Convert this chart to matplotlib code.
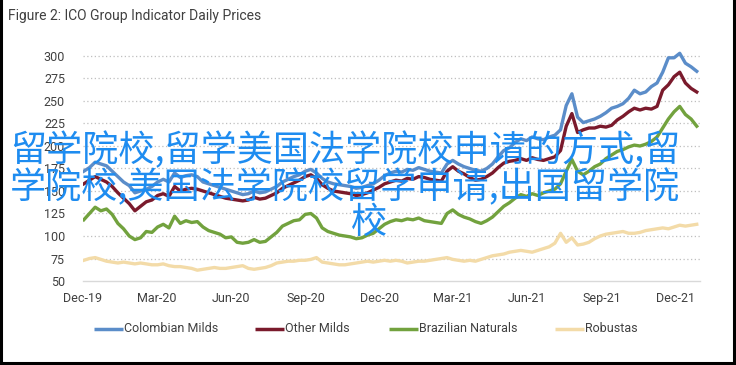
import pandas as pd
import matplotlib
matplotlib.use("Agg")
import matplotlib.pyplot as plt
import matplotlib.dates as mdates
from matplotlib.lines import Line2D

# weekly readings, cents/lb
dates = pd.date_range("2019-12-02", periods=109, freq="7D")

colombian = [172, 176, 182, 180, 178, 172, 166, 160, 156, 148,
             150, 152, 155, 160, 163, 160, 170, 165, 167, 168,
             166, 160, 158, 156, 154, 152, 150, 148, 146, 147,
             150, 148, 149, 152, 155, 160, 163, 166, 168, 172,
             174, 170, 164, 160, 158, 157, 156, 155, 153, 154,
             156, 158, 162, 167, 170, 172, 171, 174, 173, 176,
             174, 172, 171, 170, 180, 184, 180, 177, 175, 173,
             172, 175, 180, 188, 195, 198, 204, 208, 206, 210,
             208, 207, 210, 212, 218, 245, 258, 232, 226, 228,
             230, 233, 237, 242, 244, 247, 253, 262, 258, 260,
             266, 270, 282, 298, 298, 303, 292, 288, 283]

other_milds = [158, 162, 166, 163, 160, 155, 148, 142, 136, 128,
               133, 138, 140, 145, 147, 144, 155, 150, 152, 153,
               152, 150, 148, 146, 144, 142, 141, 140, 139, 140,
               143, 141, 142, 145, 148, 153, 156, 159, 162, 166,
               168, 164, 157, 153, 150, 149, 148, 147, 145, 146,
               148, 151, 154, 158, 160, 162, 161, 164, 163, 166,
               165, 163, 162, 161, 172, 177, 172, 169, 165, 162,
               163, 166, 170, 176, 181, 183, 184, 186, 184, 187,
               185, 184, 186, 188, 195, 222, 236, 215, 218, 220,
               220, 222, 221, 223, 229, 233, 238, 242, 240, 242,
               241, 244, 262, 268, 277, 282, 270, 264, 260]

brazilian = [118, 125, 132, 128, 130, 124, 114, 108, 100, 96,
             98, 105, 104, 110, 113, 109, 122, 114, 117, 115,
             116, 110, 106, 104, 102, 98, 99, 93, 92, 93,
             96, 93, 94, 99, 104, 111, 114, 117, 118, 124,
             125, 120, 109, 105, 103, 101, 100, 99, 97, 98,
             101, 103, 108, 113, 116, 118, 117, 119, 118, 120,
             117, 116, 115, 114, 125, 129, 124, 121, 119, 116,
             114, 117, 121, 127, 133, 137, 142, 146, 144, 147,
             145, 148, 150, 152, 158, 172, 185, 172, 168, 172,
             177, 180, 186, 190, 194, 196, 199, 201, 200, 202,
             205, 210, 220, 230, 238, 244, 235, 230, 222]

robustas = [73, 75, 76, 74, 72, 71, 70, 71, 70, 69,
            70, 69, 68, 68, 69, 67, 66, 66, 65, 64,
            62, 63, 64, 65, 64, 64, 65, 66, 67, 64,
            63, 64, 65, 67, 70, 71, 72, 72, 73, 73,
            74, 76, 71, 70, 69, 68, 68, 69, 70, 71,
            72, 71, 72, 73, 72, 73, 72, 70, 71, 72,
            72, 73, 74, 75, 76, 74, 73, 72, 73, 72,
            74, 76, 78, 79, 80, 82, 83, 84, 83, 82,
            84, 86, 88, 92, 103, 93, 98, 90, 91, 93,
            97, 100, 102, 103, 104, 105, 103, 103, 104, 106,
            107, 108, 109, 108, 110, 112, 111, 112, 113]

series_names = ["Colombian Milds", "Other Milds", "Brazilian Naturals", "Robustas"]
y_ticks = [50, 75, 100, 125, 150, 175, 200, 225, 250, 275, 300]
title = "Figure 2: ICO Group Indicator Daily Prices"
overlay = ["留学院校,留学美国法学院校申请的方式,留",
           "学院校,美国法学院校留学申请,出国留学院",
           "校"]

colors = ["#5B8DC9", "#7A1A2C", "#72A23E", "#F3DBA8"]
narrow = ["Roboto", "DejaVu Sans"]
grey_txt = "#404040"

W, H = 736, 365
fig = plt.figure(figsize=(W / 100, H / 100), dpi=100)
fig.patch.set_facecolor("white")

# axes placed in pixel coordinates
left, right = 83, 700
bottom_px, top_px = 281, 47
ax = fig.add_axes([left / W, 1 - bottom_px / H, (right - left) / W, (bottom_px - top_px) / H])

all_series = [colombian, other_milds, brazilian, robustas]
for i in [3, 2, 1, 0]:
    ax.plot(dates, all_series[i], color=colors[i], lw=2.4, solid_joinstyle="round", zorder=3 + (3 - i))

ax.set_ylim(50, 310)
ax.set_xlim(pd.Timestamp("2019-12-01"), pd.Timestamp("2021-12-31"))
ax.set_yticks(y_ticks)
ax.set_yticklabels([str(v) for v in y_ticks], family=narrow, fontsize=9, color=grey_txt)
for v in y_ticks[1:]:
    ax.axhline(v, color="#BFBFBF", lw=0.9, ls=(0, (1, 2)), zorder=1)

ax.xaxis.set_major_locator(mdates.MonthLocator(bymonth=[3, 6, 9, 12]))
ax.xaxis.set_major_formatter(mdates.DateFormatter("%b-%y"))
for lab in ax.get_xticklabels():
    lab.set_family(narrow)
    lab.set_fontsize(9)
    lab.set_color(grey_txt)
ax.tick_params(length=0, pad=8)
ax.tick_params(axis="y", pad=13)

for s in ["top", "right", "left"]:
    ax.spines[s].set_visible(False)
ax.spines["bottom"].set_color("#D9D9D9")
ax.spines["bottom"].set_linewidth(1.0)

# legend drawn by hand at the reference spots
leg_y = 1 - 329 / H
leg_x = [94, 255, 389, 555]
for i, name in enumerate(series_names):
    x0 = leg_x[i]
    fig.add_artist(Line2D([x0 / W, (x0 + 29) / W], [leg_y, leg_y], color=colors[i], lw=2.5,
                          solid_capstyle="butt", transform=fig.transFigure))
    fig.text((x0 + 30) / W, leg_y, name, family=narrow, fontsize=9, color=grey_txt,
             ha="left", va="center")

fig.text(8 / W, 1 - 16 / H, title, family=narrow, fontsize=10, color=grey_txt, va="center", ha="left")

# outer frame (left, right, bottom)
fig.add_artist(Line2D([1 / W, 1 / W], [0, 1], color="black", lw=2.2, transform=fig.transFigure))
fig.add_artist(Line2D([734 / W, 734 / W], [0, 1], color="black", lw=2.2, transform=fig.transFigure))
fig.add_artist(Line2D([0, 734 / W], [1 - 363 / H, 1 - 363 / H], color="black", lw=2.2, transform=fig.transFigure))

# big overlay caption
cjk = ["Noto Sans CJK SC", "DejaVu Sans"]
line_y = [150, 187, 223]
line_x = [345, 345, 369]
for txt, yy, xx in zip(overlay, line_y, line_x):
    fig.text(xx / W, 1 - yy / H, txt, family=cjk, fontsize=26, color="#1E8CF0",
             ha="center", va="center", zorder=10)

fig.savefig("out.png", dpi=100)
